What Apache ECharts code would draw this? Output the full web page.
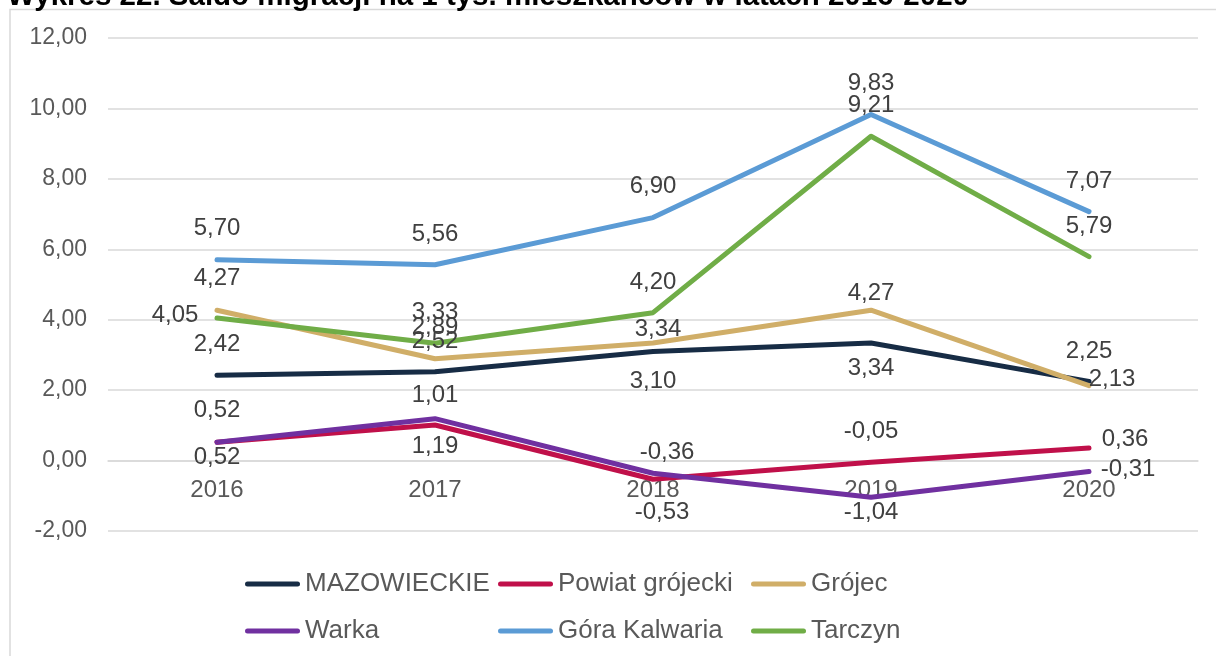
<!DOCTYPE html>
<html>
<head>
<meta charset="utf-8">
<script src="https://cdn.jsdelivr.net/npm/echarts@6/dist/echarts.min.js"></script>
<style>
  html, body { margin: 0; padding: 0; background: #ffffff; }
  #chart { width: 1216px; height: 656px; }
</style>
</head>
<body>
<div id="chart"></div>
<script>
// Saldo migracji na 1 tys. mieszkańców, 2016-2020
const years = ['2016', '2017', '2018', '2019', '2020'];
const mazowieckie = [2.42, 2.52, 3.10, 3.34, 2.25];
const powiatGrojecki = [0.52, 1.01, -0.53, -0.05, 0.36];
const grojec = [4.27, 2.89, 3.34, 4.27, 2.13];
const warka = [0.52, 1.19, -0.36, -1.04, -0.31];
const goraKalwaria = [5.70, 5.56, 6.90, 9.83, 7.07];
const tarczyn = [4.05, 3.33, 4.20, 9.21, 5.79];
const yTicks = { min: -2, max: 12, step: 2 };

// label placement (offset of the label centre from its point, px)
const labelShift = {
  'MAZOWIECKIE':      [[0, -31], [0, -30], [0, 30], [0, 25], [0, -30]],
  'Powiat grójecki':  [[0, -32], [0, -30], [9, 33], [0, -31], [36, -9]],
  'Grójec':           [[0, -32], [0, -31], [5, -14], [0, -17], [23, -6]],
  'Warka':            [[0, 15], [0, 28], [14, -21], [0, 15], [39, -2]],
  'Góra Kalwaria':    [[0, -31], [0, -30], [0, -31], [0, -31], [0, -30]],
  'Tarczyn':          [[-42, -3], [0, -31], [0, -30], [0, -31], [0, -30]]
};

const seriesDefs = [
  { name: 'MAZOWIECKIE', values: mazowieckie, color: '#172c45' },
  { name: 'Powiat grójecki', values: powiatGrojecki, color: '#c0104a' },
  { name: 'Grójec', values: grojec, color: '#d0ae68' },
  { name: 'Warka', values: warka, color: '#7030a0' },
  { name: 'Góra Kalwaria', values: goraKalwaria, color: '#5b9bd5' },
  { name: 'Tarczyn', values: tarczyn, color: '#70ad47' }
];

const FONT = '"Liberation Sans", Arial, sans-serif';
const fmt = v => Number(v).toFixed(2).replace('.', ',');

const series = seriesDefs.map(d => ({
  name: d.name,
  type: 'line',
  data: d.values.map((v, i) => ({
    value: v,
    label: { offset: labelShift[d.name][i] }
  })),
  symbol: 'circle',
  symbolSize: 1,
  itemStyle: { color: d.color },
  lineStyle: { color: d.color, width: 5, cap: 'round', join: 'round' },
  label: {
    show: true,
    position: 'inside',
    align: 'center',
    verticalAlign: 'middle',
    fontFamily: FONT,
    fontSize: 24,
    color: '#404040',
    formatter: p => fmt(p.value)
  },
  emphasis: { disabled: true },
  animation: false
}));

// six legend entries laid out as a 3-column, 2-row grid
const legendCols = [245, 498, 751];
const legendRows = [571, 618];
const capsule = 'path://M2.5,0 L52.5,0 A2.5,2.5 0 0 1 52.5,5 L2.5,5 A2.5,2.5 0 0 1 2.5,0 Z';
const legends = seriesDefs.map((d, i) => ({
  data: [d.name],
  left: legendCols[i % 3],
  top: legendRows[Math.floor(i / 3)],
  padding: 0,
  icon: capsule,
  itemWidth: 55,
  itemHeight: 5,
  itemGap: 0,
  selectedMode: false,
  textStyle: { fontFamily: FONT, fontSize: 26, color: '#595959' }
}));

const chart = echarts.init(document.getElementById('chart'), null, { renderer: 'canvas' });
chart.setOption({
  animation: false,
  backgroundColor: '#ffffff',
  graphic: [
    {
      type: 'rect',
      shape: { x: 10, y: 9.5, width: 1230, height: 670 },
      style: { fill: 'none', stroke: '#d9d9d9', lineWidth: 1.5 },
      silent: true,
      z: -1
    },
    {
      type: 'text',
      x: 7,
      y: -3,
      style: {
        text: 'Wykres 22. Saldo migracji na 1 tys. mieszkańców w latach 2016-2020',
        font: 'bold 29.5px "Liberation Sans", Arial, sans-serif',
        fill: '#000000',
        verticalAlign: 'middle',
        align: 'left'
      },
      silent: true
    }
  ],
  grid: { left: 108, right: 18, top: 38, bottom: 125, containLabel: false },
  legend: legends,
  xAxis: {
    type: 'category',
    data: years,
    boundaryGap: true,
    position: 'bottom',
    // the category axis sits on the zero line
    offset: -70.5,
    axisLine: { show: true, onZero: false, lineStyle: { color: '#d9d9d9', width: 1.5 } },
    axisTick: { show: false },
    axisLabel: { fontFamily: FONT, fontSize: 24, color: '#595959', margin: 18 },
    splitLine: { show: false }
  },
  yAxis: {
    type: 'value',
    min: yTicks.min,
    max: yTicks.max,
    interval: yTicks.step,
    axisLine: { show: false },
    axisTick: { show: false },
    axisLabel: { fontFamily: FONT, fontSize: 23, color: '#595959', margin: 21, formatter: v => fmt(v) },
    splitLine: { lineStyle: { color: '#d9d9d9', width: 1.5 } }
  },
  series: series
});
</script>
</body>
</html>
